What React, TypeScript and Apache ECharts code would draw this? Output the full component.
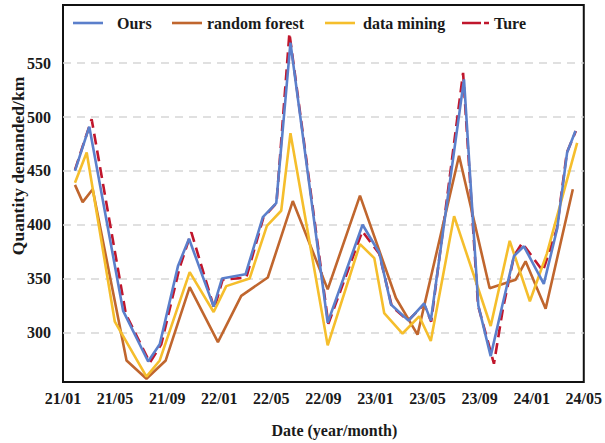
import React, { useEffect, useRef } from "react";
import * as echarts from "echarts";

// Months counted from 2021-01 (0 = 21/01, 40 = 24/05)
const oursMonths = [0.92, 2.02, 4.62, 6.54, 7.43, 8.84, 9.68, 11.57, 12.21, 14.02, 15.35, 16.38, 17.47, 20.33, 23.01, 24.29, 25.19, 26.54, 27.74, 28.25, 30.8, 31.9, 32.85, 33.74, 34.64, 35.4, 36.93, 37.95, 38.72, 39.36];
const oursValues = [450, 491, 320, 273, 289, 362, 387, 324, 350, 354, 407, 420, 569, 309, 400, 374, 326, 311, 327, 311, 535, 325, 278, 325, 371, 380, 345, 396, 467, 487];

const forestMonths = [0.92, 1.51, 2.28, 4.88, 6.41, 7.89, 9.73, 11.9, 13.69, 15.73, 17.65, 20.33, 22.81, 25.57, 27.23, 30.42, 32.77, 34.77, 35.53, 37.07, 39.16];
const forestValues = [437, 421, 433, 274, 257, 274, 342, 291, 334, 351, 422, 340, 427, 332, 298, 464, 341, 349, 366, 322, 433];

const miningMonths = [0.92, 1.82, 3.98, 6.41, 7.43, 9.73, 11.57, 12.54, 14.33, 15.66, 16.76, 17.47, 20.33, 22.81, 23.91, 24.67, 26.08, 27.36, 28.25, 30.04, 32.85, 34.31, 35.86, 37.16, 39.49];
const miningValues = [439, 467, 310, 259, 274, 356, 319, 343, 350, 399, 413, 485, 288, 382, 369, 318, 299, 315, 292, 408, 306, 385, 329, 373, 476];

const trueMonths = [0.92, 2.2, 4.83, 6.67, 7.55, 8.95, 9.86, 11.62, 12.26, 14.08, 15.4, 16.4, 17.39, 20.38, 22.99, 24.29, 25.26, 26.51, 27.74, 28.28, 30.73, 31.88, 33.1, 33.79, 34.64, 35.27, 36.86, 37.93, 38.7, 39.39];
const trueValues = [451, 498, 317, 272, 289, 360, 393, 322, 349, 351, 407, 420, 578, 308, 394, 373, 324, 311, 326, 310, 541, 325, 271, 322, 371, 383, 357, 396, 467, 487];

const xTickLabels = ["21/01", "21/05", "21/09", "22/01", "22/05", "22/09", "23/01", "23/05", "23/09", "24/01", "24/05"];
const yTicks = [300, 350, 400, 450, 500, 550];

const FONT = "'Liberation Serif', 'Times New Roman', serif";
const textBase = { fontFamily: FONT, fontWeight: "bold" as const, fontSize: 16, color: "#1a1a1a" };

const zip = (xs: number[], ys: number[]) => xs.map((x, i) => [x, ys[i]]);

// Legend swatches: a plain stroke, and a long + short dash for the measured series
const solidIcon = "path://M0,0H30V2.6H0Z";
const dashIcon = "path://M0,0H19V2.6H0ZM22,0H27V2.6H22Z";

const legendItem = (name: string, left: number, width: number, icon: string, padLeft: number) => ({
  data: [name],
  left,
  top: 15,
  icon,
  itemWidth: width,
  itemHeight: 2.6,
  padding: 0,
  itemStyle: { borderWidth: 0 },
  textStyle: { ...textBase, padding: [0, 0, 0, padLeft] },
});

export default function App() {
  const ref = useRef<HTMLDivElement>(null);

  useEffect(() => {
    if (!ref.current) return;
    const chart = echarts.init(ref.current, undefined, { renderer: "svg" });
    const lineSeries = (name: string, data: number[][], color: string, z: number, dashed = false) => ({
      name,
      type: "line",
      data,
      showSymbol: false,
      symbol: "none",
      z,
      itemStyle: { color },
      lineStyle: { color, width: 2.6, type: dashed ? [11, 6] : "solid" },
    });

    chart.setOption({
      animation: false,
      backgroundColor: "#ffffff",
      grid: {
        left: 63,
        right: 20,
        top: 5,
        bottom: 60,
        show: true,
        borderColor: "#111",
        borderWidth: 2,
      },
      legend: [
        legendItem("Ours", 73, 30, solidIcon, 9),
        legendItem("random forest", 172, 30, solidIcon, 0),
        legendItem("data mining", 325, 30, solidIcon, 3),
        legendItem("Ture", 462, 27, dashIcon, 0),
      ],
      graphic: [
        {
          type: "text",
          x: 18,
          y: 166,
          rotation: Math.PI / 2,
          style: {
            text: "Quantity demanded/km",
            fontFamily: FONT,
            fontWeight: "bold",
            fontSize: 17.5,
            fill: "#1a1a1a",
            align: "center",
            verticalAlign: "middle",
          },
        },
      ],
      xAxis: {
        type: "value",
        min: 0,
        max: 40,
        interval: 4,
        name: "Date (year/month)",
        nameLocation: "middle",
        nameGap: 40,
        nameTextStyle: { ...textBase, padding: [0, 0, 0, 22] },
        axisLine: { show: false },
        axisTick: { show: false },
        splitLine: { show: false },
        axisLabel: {
          ...textBase,
          margin: 8,
          formatter: (v: number) => xTickLabels[Math.round(v / 4)] ?? "",
        },
      },
      yAxis: {
        type: "value",
        min: 254,
        max: 604,
        axisLine: { show: false },
        axisTick: { show: false, customValues: yTicks },
        axisLabel: { ...textBase, margin: 12, customValues: yTicks },
        splitLine: {
          show: true,
          lineStyle: { color: "#d6d6d6", width: 1.6, type: [8, 6] },
        },
      },
      series: [
        lineSeries("Ours", zip(oursMonths, oursValues), "#5B7FCB", 4),
        lineSeries("random forest", zip(forestMonths, forestValues), "#C0662E", 3),
        lineSeries("data mining", zip(miningMonths, miningValues), "#F5BE2C", 3),
        lineSeries("Ture", zip(trueMonths, trueValues), "#C0162C", 2, true),
      ],
    });
    return () => chart.dispose();
  }, []);

  return (
    <div
      ref={ref}
      style={{ position: "fixed", left: 0, top: 0, width: 605, height: 443, background: "#fff" }}
    />
  );
}
